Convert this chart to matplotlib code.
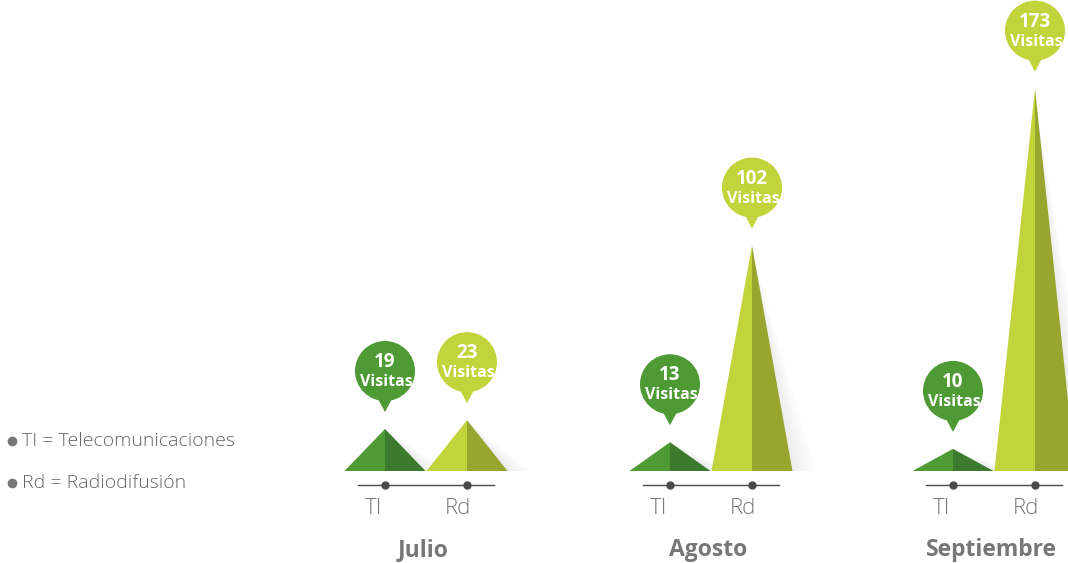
import numpy as np
import matplotlib.pyplot as plt
from matplotlib.patches import Polygon, Ellipse

# datos
meses = ['Julio', 'Agosto', 'Septiembre']
series = ['TI', 'Rd']
visitas_ti = [19, 13, 10]
visitas_rd = [23, 102, 173]
leyenda = ['TI = Telecomunicaciones', 'Rd = Radiodifusión']

# colores (izquierda claro, derecha oscuro)
col_ti = ('#4e9a34', '#3c7a2e')
col_rd = ('#c3d33b', '#98a52f')
gris = '#777777'
gris_osc = '#4a4a4a'
fuente = 'Open Sans'

W, H = 1068, 563
px = 2.21            # pixeles por visita
base_px = 92         # linea base desde abajo (px)

fig = plt.figure(figsize=(W / 100, H / 100), dpi=100)
ax = fig.add_axes([0, 0, 1, 1])
ax.set_xlim(0, W)
ax.set_ylim(-base_px / px, (H - base_px) / px)
ax.axis('off')

centros = [426, 711, 994]
off = 41      # separacion de cada pico al centro del grupo
half = 40.5   # medio ancho del triangulo
rad = 30      # radio del globo (px)


def pico(xc, v, cols):
    # sombra suave a la derecha
    for k in range(6):
        s = 3 + k * 4
        ax.add_patch(Polygon([(xc, v * 0.97), (xc + half + s, 0), (xc + half, 0)],
                             closed=True, color='#000000', alpha=0.01, lw=0, zorder=1))
    ax.add_patch(Polygon([(xc - half, 0), (xc, v), (xc, 0)], closed=True,
                         color=cols[0], lw=0, zorder=2))
    ax.add_patch(Polygon([(xc, 0), (xc, v), (xc + half, 0)], closed=True,
                         color=cols[1], lw=0, zorder=2))


def globo(xc, v, color):
    cy = v + 58 / px
    tip = v + 17 / px
    ax.add_patch(Ellipse((xc, cy), 2 * rad, 2 * rad / px, color=color, lw=0, zorder=3))
    ax.add_patch(Polygon([(xc - 8, cy - 26 / px), (xc, tip), (xc + 8, cy - 26 / px)],
                         closed=True, color=color, lw=0, zorder=3))
    ax.text(xc, cy + 9 / px, str(v), ha='center', va='center', color='white',
            fontsize=13.5, fontweight='bold', family=fuente, zorder=4)
    ax.text(xc + 1, cy - 11 / px, 'Visitas', ha='center', va='center', color='white',
            fontsize=11.5, fontweight='bold', family=fuente, zorder=4)


y_eje = -14 / px
for i, mes in enumerate(meses):
    c = centros[i]
    x_ti, x_rd = c - off, c + off
    pico(x_ti, visitas_ti[i], col_ti)
    pico(x_rd, visitas_rd[i], col_rd)
    globo(x_ti, visitas_ti[i], col_ti[0])
    globo(x_rd, visitas_rd[i], col_rd[0])
    ax.plot([c - 68, c + 68], [y_eje, y_eje], color=gris_osc, lw=1, zorder=2)
    ax.plot([x_ti, x_rd], [y_eje, y_eje], 'o', color=gris_osc, ms=5, zorder=3)
    for x, lab in zip([x_ti, x_rd], series):
        ax.text(x - 11 if lab == 'TI' else x - 9, -37 / px, lab, ha='center', va='center',
                color=gris, fontsize=16, fontweight='light', family=fuente)
    ax.text(c - 3, -79 / px, mes, ha='center', va='center', color=gris,
            fontsize=16.5, fontweight='bold', family=fuente)

# leyenda
for j, txt in enumerate(leyenda):
    yy = 441 + j * 42
    ax.plot(12, (H - yy - base_px) / px, 'o', color=gris, ms=6, clip_on=False)
    ax.text(22, (H - yy - base_px) / px, txt, ha='left', va='center', color='#666666',
            fontsize=14, fontweight='light', family=fuente)

fig.savefig('out.png', dpi=100)
